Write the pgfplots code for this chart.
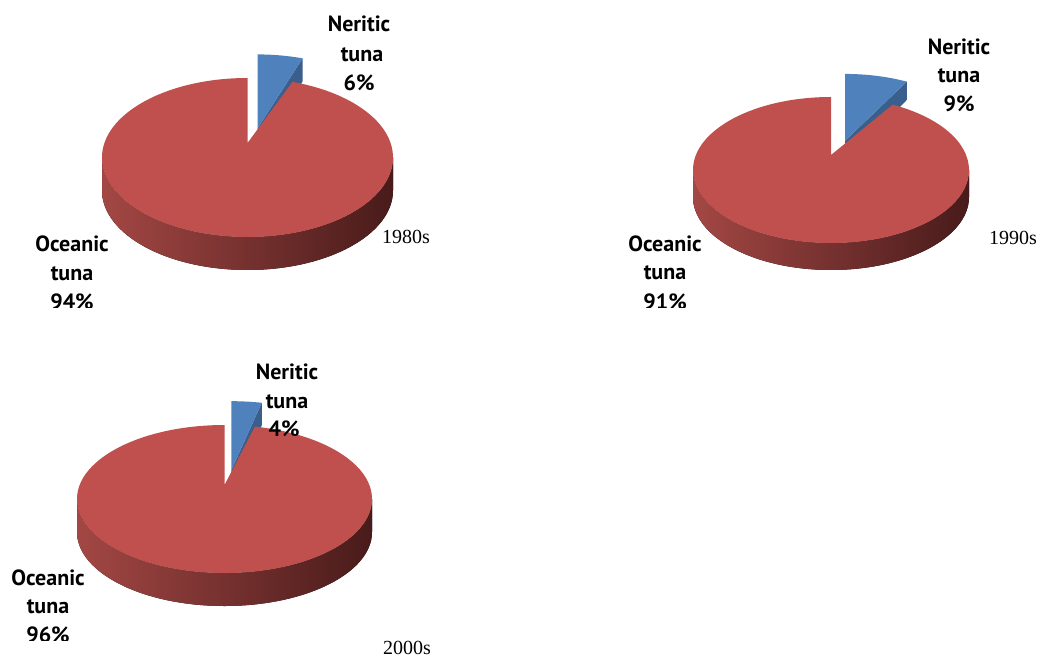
\documentclass[border=0pt]{standalone}
\usepackage{pgfplots}
\pgfplotsset{compat=1.18}
\usepackage{fontspec}
\setmainfont{Liberation Serif}
\newfontfamily\labfont{PT Sans}
\definecolor{ocean}{HTML}{C0504D}
\definecolor{ner}{HTML}{4F81BD}
\definecolor{nerdark}{HTML}{3A5F8C}
\definecolor{sideL}{HTML}{A34744}
\definecolor{sideM}{HTML}{76302E}
\definecolor{sideR}{HTML}{481B1A}

% data: share of neritic tuna (%) per decade; oceanic = 100 - neritic
\def\NerA{6}  % 1980s
\def\NerB{9}  % 1990s
\def\NerC{4}  % 2000s

% geometry of a 3D pie (pixel coords, y downwards):
% #1 centre x, #2 top of face, #3 bottom of face, #4 apex y, #5 bottom of side, #6 half width, #7 neritic %
\newcommand\piecalc[7]{%
  \pgfmathsetmacro\Pcx{#1}%
  \pgfmathsetmacro\Pt{#4-#2}%
  \pgfmathsetmacro\Ps{#3-#4}%
  \pgfmathsetmacro\Pk{(\Ps-\Pt)/(\Ps+\Pt)}%
  \pgfmathsetmacro\Pb{\Pt*(1+\Pk)}%
  \pgfmathsetmacro\Pa{#6*sqrt(1-\Pk*\Pk)}%
  \pgfmathsetmacro\PA{#6}%
  \pgfmathsetmacro\PB{(#3-#2)/2}%
  \pgfmathsetmacro\Pecy{657-(#2+#3)/2}%
  \pgfmathsetmacro\Papy{657-#4}%
  \pgfmathsetmacro\Ptop{657-#2}%
  \pgfmathsetmacro\PD{#5-#3}%
  \pgfmathsetmacro\Ph{\PD*(1-\Pk)}%
  \pgfmathsetmacro\Pth{90-3.6*#7}%
  \pgfmathsetmacro\Pw{1+\Pk*sin(\Pth)}%
  \pgfmathsetmacro\PXt{#1+\Pa*cos(\Pth)/\Pw}%
  \pgfmathsetmacro\PYt{\Papy+\Pb*sin(\Pth)/\Pw}%
  \pgfmathsetmacro\Pphi{atan2((\PYt-\Pecy)/\PB,(\PXt-#1)/\PA)}%
  \pgfmathsetmacro\Pphiend{\Pphi+360}%
  \pgfmathsetmacro\Pbis{90-1.8*#7}%
  \pgfmathsetmacro\Pdx{0.375*\Pa*cos(\Pbis)}%
  \pgfmathsetmacro\Pdy{24*sin(\Pbis)}%
  \pgfmathsetmacro\PhT{\Ph/\Pw}%
  % exploded neritic slice
  \pgfmathsetmacro\EXa{\Pcx+\Pdx}\pgfmathsetmacro\EYa{\Papy+0.62*\Pdy}%
  \pgfmathsetmacro\EXt{\PXt+\Pdx}\pgfmathsetmacro\EYt{\PYt+\Pdy}%
  \pgfmathsetmacro\EYtb{\PYt+\Pdy-\PhT}\pgfmathsetmacro\EYab{\Papy+0.62*\Pdy-\Ph}%
  \pgfmathsetmacro\EYtop{\Ptop+\Pdy}%
  \pgfmathsetmacro\PL{\Pcx-\PA}%
}
\newcommand\piedraw{%
  % neritic slice: radial face, top
  \fill[nerdark] (axis cs:\EXa,\EYa) -- (axis cs:\EXt,\EYt) -- (axis cs:\EXt,\EYtb) -- (axis cs:\EXa,\EYab) -- cycle;
  \fill[ner] (axis cs:\EXa,\EYa) -- (axis cs:\EXa,\EYtop) arc[start angle=90,end angle=\Pphi,x radius=\PA pt,y radius=\PB pt] -- cycle;
  % oceanic side
  \fill[left color=sideL,middle color=sideM,right color=sideR] (axis cs:\PL,\Pecy) arc[start angle=180,end angle=360,x radius=\PA pt,y radius=\PB pt] -- ++(0,-\PD pt) arc[start angle=360,end angle=180,x radius=\PA pt,y radius=\PB pt] -- cycle;
  % oceanic top
  \fill[ocean] (axis cs:\Pcx,\Papy) -- (axis cs:\Pcx,\Ptop) arc[start angle=90,end angle=\Pphiend,x radius=\PA pt,y radius=\PB pt] -- cycle;
}
\pgfplotsset{pieaxis/.style={at={(0,0)},anchor=south west,width=1040pt,height=657pt,scale only axis,
  xmin=0,xmax=1040,ymin=0,ymax=657,enlargelimits=false,hide axis,clip=false}}
\tikzset{lab/.style={anchor=base,inner sep=0pt,font=\labfont\bfseries\fontsize{22}{22}\selectfont},
  yr/.style={anchor=base,inner sep=0pt,font=\fontsize{20}{20}\selectfont}}

\begin{document}
\begin{tikzpicture}
\useasboundingbox (0,0) rectangle (1040pt,657pt);
% ---- 1980s
\piecalc{247.5}{78}{237}{143}{270}{145.5}{\NerA}
\begin{axis}[pieaxis]
\piedraw
\node[lab] at (axis cs:359,625) {Neritic};
\node[lab] at (axis cs:362,595) {tuna};
\node[lab] at (axis cs:359,566) {\NerA\%};
\node[lab] at (axis cs:72,405) {Oceanic};
\node[lab] at (axis cs:72,376) {tuna};
\pgfmathtruncatemacro\OcA{100-\NerA}
\node[lab] at (axis cs:72,347) {\OcA\%};
\fill[white] (axis cs:0,349) rectangle (axis cs:150,325);
\node[yr] at (axis cs:406,413) {1980s};
\end{axis}
% ---- 1990s
\piecalc{831}{97}{243}{155}{270}{138}{\NerB}
\begin{axis}[pieaxis]
\piedraw
\node[lab] at (axis cs:959,602) {Neritic};
\node[lab] at (axis cs:959,574) {tuna};
\node[lab] at (axis cs:959,545) {\NerB\%};
\node[lab] at (axis cs:665,405) {Oceanic};
\node[lab] at (axis cs:665,377) {tuna};
\pgfmathtruncatemacro\OcB{100-\NerB}
\node[lab] at (axis cs:665,347) {\OcB\%};
\fill[white] (axis cs:590,349) rectangle (axis cs:740,325);
\node[yr] at (axis cs:1013,412) {1990s};
\end{axis}
% ---- 2000s
\piecalc{224.5}{425}{573}{485}{606}{147.5}{\NerC}
\begin{axis}[pieaxis]
\piedraw
\node[lab] at (axis cs:287,278) {Neritic};
\node[lab] at (axis cs:287,249) {tuna};
\node[lab] at (axis cs:284,221) {\NerC\%};
\node[lab] at (axis cs:48,72) {Oceanic};
\node[lab] at (axis cs:48,44) {tuna};
\pgfmathtruncatemacro\OcC{100-\NerC}
\node[lab] at (axis cs:48,15) {\OcC\%};
\fill[white] (axis cs:0,16) rectangle (axis cs:130,-5);
\node[yr] at (axis cs:407,3) {2000s};
\end{axis}
\end{tikzpicture}
\end{document}
